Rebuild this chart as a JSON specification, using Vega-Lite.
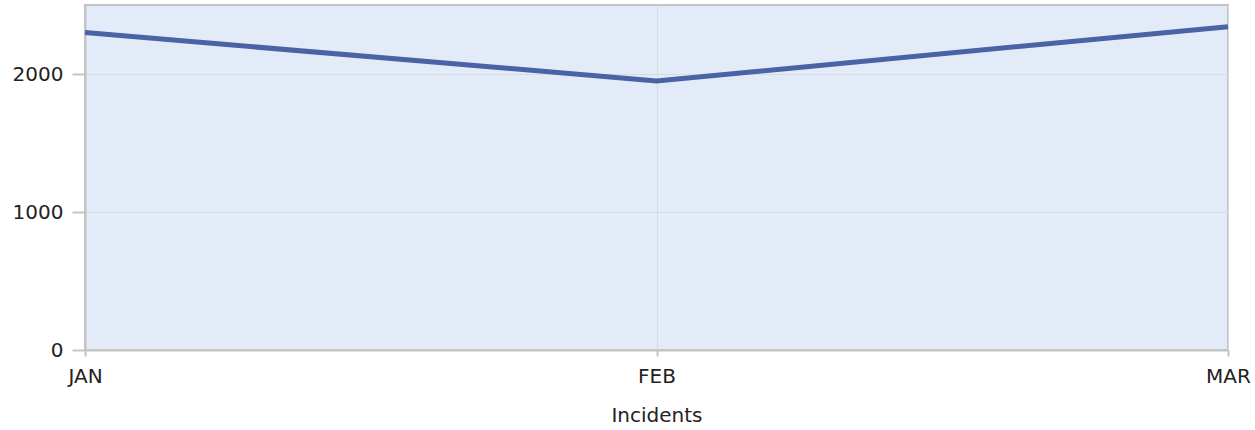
{
  "$schema": "https://vega.github.io/schema/vega-lite/v6.json",
  "autosize": {"type": "none"},
  "width": 1143,
  "height": 345,
  "padding": {"left": 85, "top": 5, "right": 27, "bottom": 80},
  "background": "white",
  "config": {
    "view": {"fill": "#e4ebf8", "stroke": "#c4c4c4", "strokeWidth": 2},
    "axis": {
      "labelFont": "DejaVu Sans",
      "titleFont": "DejaVu Sans",
      "labelColor": "#222",
      "titleColor": "#222",
      "labelFontSize": 20,
      "titleFontSize": 20,
      "titleFontWeight": "normal",
      "domainColor": "#c4c4c4",
      "domainWidth": 2,
      "tickColor": "#c4c4c4",
      "tickWidth": 2,
      "gridColor": "#d6dbe3",
      "gridWidth": 1
    }
  },
  "data": {
    "values": [
      {"month": "JAN", "incidents": 2300},
      {"month": "FEB", "incidents": 1950},
      {"month": "MAR", "incidents": 2343}
    ]
  },
  "mark": {"type": "line", "color": "#4a62a6", "strokeWidth": 5},
  "encoding": {
    "x": {
      "field": "month",
      "type": "ordinal",
      "sort": null,
      "scale": {"type": "point", "padding": 0},
      "axis": {"title": "Incidents", "labelAngle": 0, "tickSize": 6, "labelPadding": 10, "titlePadding": 19, "grid": true}
    },
    "y": {
      "field": "incidents",
      "type": "quantitative",
      "scale": {"domain": [0, 2500], "nice": false},
      "axis": {"title": null, "values": [0, 1000, 2000], "format": "d", "tickSize": 13, "labelPadding": 9, "grid": true}
    }
  }
}
